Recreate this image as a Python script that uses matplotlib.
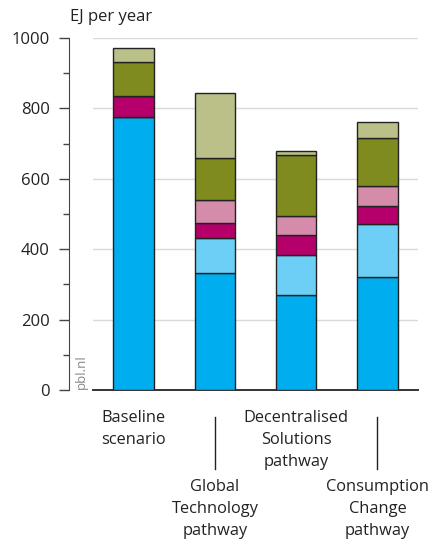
import numpy as np
import matplotlib.pyplot as plt
from matplotlib.ticker import MultipleLocator

plt.rcParams['font.family'] = ['Open Sans', 'DejaVu Sans']

# energy supply per scenario, EJ per year (stack order bottom -> top)
scenarios = ["Baseline\nscenario", "Global\nTechnology\npathway",
             "Decentralised\nSolutions\npathway", "Consumption\nChange\npathway"]
seg1 = [775, 333, 269, 321]   # blue
seg2 = [0, 98, 115, 151]      # light blue
seg3 = [61, 43, 55, 50]       # magenta
seg4 = [0, 65, 56, 57]        # pink
seg5 = [96, 121, 173, 136]    # olive
seg6 = [40, 185, 11, 46]      # light olive
segments = [seg1, seg2, seg3, seg4, seg5, seg6]
colors = ["#00aeef", "#6ecff6", "#b5006b", "#d58baa", "#7f8b1e", "#bac087"]

fig = plt.figure(figsize=(4.32, 5.44), dpi=100)
ax = fig.add_axes([93/432, 1-390/544, 325/432, 352/544])

x = np.arange(len(scenarios))
bottom = np.zeros(len(scenarios))
for vals, c in zip(segments, colors):
    vals = np.array(vals, dtype=float)
    ax.bar(x, vals, 0.5, bottom=bottom, color=c, edgecolor="#222222",
           linewidth=1.0, zorder=3)
    bottom += vals

ax.set_xlim(-0.5, 3.5)
ax.set_ylim(0, 1000)
ax.yaxis.set_major_locator(MultipleLocator(200))
ax.yaxis.set_minor_locator(MultipleLocator(100))
for v in range(200, 1001, 200):
    ax.axhline(v, color="#d9d9d9", lw=1.0, zorder=1)

ax.set_xticks([])
for s in ["top", "right"]:
    ax.spines[s].set_visible(False)
ax.spines["left"].set_position(("outward", 17))
ax.spines["left"].set_color("#444444")
ax.spines["bottom"].set_color("#333333")
ax.spines["bottom"].set_linewidth(1.4)
ax.tick_params(axis="y", which="major", length=7, width=1.0, color="#444444",
               labelsize=12, labelcolor="#222222", pad=7)
ax.tick_params(axis="y", which="minor", length=4, width=1.0, color="#444444")

fig.text(70/432, 1-17/544, "EJ per year", fontsize=12, color="#222222",
         va="center", ha="left")
fig.text(81/432, 1-372/544, "pbl.nl", fontsize=9.5, color="#888888",
         rotation=90, va="center", ha="center")

# staggered category labels
upper = [True, False, True, False]
for i, (lab, up) in enumerate(zip(scenarios, upper)):
    xf = ax.transData.transform((i, 0))[0] / fig.bbox.width
    if up:
        fig.text(xf, 1-410/544, lab, ha="center", va="top", fontsize=11.8,
                 color="#222222", linespacing=1.5)
    else:
        fig.text(xf, 1-479/544, lab, ha="center", va="top", fontsize=11.8,
                 color="#222222", linespacing=1.5)
        fig.add_artist(plt.Line2D([xf, xf], [1-417/544, 1-469/544],
                                  color="#222222", lw=1.0))

fig.savefig("out.png", dpi=100)
